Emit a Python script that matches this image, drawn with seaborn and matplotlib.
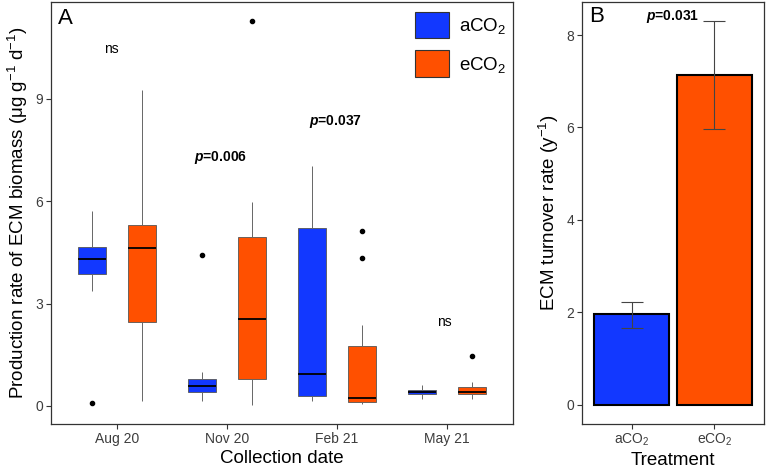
import numpy as np
import pandas as pd
import matplotlib
matplotlib.use("Agg")
import matplotlib.pyplot as plt
import seaborn as sns
from matplotlib.patches import Patch

# ---------------- data ----------------
dates = ["Aug 20", "Nov 20", "Feb 21", "May 21"]
treatments = ["aCO2", "eCO2"]
treatment_labels = ["aCO$_2$", "eCO$_2$"]
colors = {"aCO2": "#1238FF", "eCO2": "#FF5000"}

# production rate samples per date x treatment (read from box stats)
aug20_a = [0.10, 3.37, 3.88, 4.10, 4.30, 4.50, 4.66, 5.20, 5.71]
aug20_e = [0.13, 1.50, 2.46, 3.50, 4.64, 5.00, 5.31, 7.00, 9.25]
nov20_a = [0.15, 0.30, 0.40, 0.50, 0.58, 0.70, 0.78, 1.00, 4.42]
nov20_e = [0.03, 0.40, 0.78, 1.60, 2.55, 3.50, 4.96, 5.99, 11.28]
feb21_a = [0.15, 0.20, 0.30, 0.60, 0.94, 3.00, 5.21, 6.00, 7.04]
feb21_e = [0.06, 0.08, 0.10, 0.12, 0.15, 0.18, 0.22, 0.80, 1.30, 1.75, 2.37, 4.33, 5.12]
may21_a = [0.21, 0.30, 0.35, 0.38, 0.42, 0.45, 0.48, 0.55, 0.61]
may21_e = [0.21, 0.30, 0.35, 0.38, 0.42, 0.50, 0.55, 0.70, 1.47]

p_labels_a = ["ns", r"$\mathbfit{p}$=0.006", r"$\mathbfit{p}$=0.037", "ns"]
p_bold_a = [False, True, True, False]
p_y_a = [10.45, 7.29, 8.34, 2.46]

turnover_mean = [1.96, 7.13]
turnover_low = [1.67, 5.96]
turnover_high = [2.23, 8.30]
p_label_b = r"$\mathbfit{p}$=0.031"
p_y_b = 8.41

# ---------------- style ----------------
plt.rcParams["font.family"] = ["Liberation Sans", "DejaVu Sans"]
plt.rcParams["mathtext.fontset"] = "custom"
plt.rcParams["mathtext.rm"] = "Liberation Sans"
plt.rcParams["mathtext.it"] = "Liberation Sans:italic"
plt.rcParams["mathtext.bf"] = "Liberation Sans:bold"
plt.rcParams["mathtext.bfit"] = "Liberation Sans:italic:bold"

groups = {
    ("Aug 20", "aCO2"): aug20_a, ("Aug 20", "eCO2"): aug20_e,
    ("Nov 20", "aCO2"): nov20_a, ("Nov 20", "eCO2"): nov20_e,
    ("Feb 21", "aCO2"): feb21_a, ("Feb 21", "eCO2"): feb21_e,
    ("May 21", "aCO2"): may21_a, ("May 21", "eCO2"): may21_e,
}
rows = []
for (d, t), vals in groups.items():
    for v in vals:
        rows.append({"date": d, "treatment": t, "rate": v})
df = pd.DataFrame(rows)

W, H = 767, 470
fig = plt.figure(figsize=(W / 100, H / 100), dpi=100)
axA = fig.add_axes([51 / W, 1 - 424 / H, 462 / W, 422 / H])
axB = fig.add_axes([582 / W, 1 - 424 / H, 182 / W, 422 / H])

tick_col = "#3D3D3D"
spine_col = "#333333"

# ---------------- panel A ----------------
sns.boxplot(
    data=df, x="date", y="rate", hue="treatment", order=dates,
    hue_order=treatments, palette=colors, saturation=1, width=0.9, gap=0.43,
    linecolor="#555555", linewidth=0.6, whis=1.5, legend=False, ax=axA,
    medianprops=dict(color="black", linewidth=1.3),
    whiskerprops=dict(color="#666666", linewidth=0.7),
    capprops=dict(linewidth=0),
    flierprops=dict(marker="o", markerfacecolor="black",
                    markeredgecolor="black", markersize=3),
)
axA.set_xlim(-0.6, 3.6)
axA.set_ylim(-0.53, 11.84)
axA.set_yticks([0, 3, 6, 9])
axA.set_xlabel("Collection date", fontsize=13.5, labelpad=3)
axA.set_ylabel("Production rate of ECM biomass (μg g$^{-1}$ d$^{-1}$)",
               fontsize=13.5, labelpad=4)

p_x_a = [-0.05, 0.94, 1.99, 2.98]
for x, lab, b, y in zip(p_x_a, p_labels_a, p_bold_a, p_y_a):
    axA.text(x, y, lab, ha="center", va="center", fontsize=10,
             fontweight="bold" if b else "normal")

handles = [Patch(facecolor=colors[t], edgecolor="#333333", linewidth=0.8)
           for t in treatments]
axA.legend(handles, treatment_labels, loc="upper left",
           bbox_to_anchor=((415 - 51) / 462, 1 - (11.7 - 2) / 422),
           frameon=False, fontsize=13.5, handlelength=1.81, handleheight=1.81,
           labelspacing=0.64, handletextpad=0.53, borderpad=0, borderaxespad=0)
axA.text(0.015, 0.985, "A", transform=axA.transAxes, ha="left", va="top",
         fontsize=16)

# ---------------- panel B ----------------
sns.barplot(x=treatments, y=turnover_mean, hue=treatments, palette=colors,
            saturation=1, width=0.9, edgecolor="black", linewidth=1.5,
            errorbar=None, legend=False, ax=axB)
mean = np.array(turnover_mean)
yerr = [mean - np.array(turnover_low), np.array(turnover_high) - mean]
axB.errorbar([0, 1], mean, yerr=yerr, fmt="none", ecolor="#444444",
             elinewidth=0.8, capsize=7.8, capthick=0.8)
axB.set_xlim(-0.6, 1.6)
axB.set_ylim(-0.415, 8.715)
axB.set_yticks([0, 2, 4, 6, 8])
axB.set_xticks([0, 1])
axB.set_xticklabels(treatment_labels)
axB.set_xlabel("Treatment", fontsize=13.5, labelpad=3)
axB.set_ylabel("ECM turnover rate (y$^{-1}$)", fontsize=13.5, labelpad=4)
axB.text(0.5, p_y_b, p_label_b, ha="center", va="center", fontsize=10,
         fontweight="bold")
axB.text(0.04, 0.99, "B", transform=axB.transAxes, ha="left", va="top",
         fontsize=16)

for ax in (axA, axB):
    for s in ax.spines.values():
        s.set_color(spine_col)
        s.set_linewidth(0.9)
    ax.tick_params(length=3.5, width=0.8, color=spine_col, labelcolor=tick_col,
                   labelsize=10, pad=2)

fig.savefig("out.png", dpi=100)
